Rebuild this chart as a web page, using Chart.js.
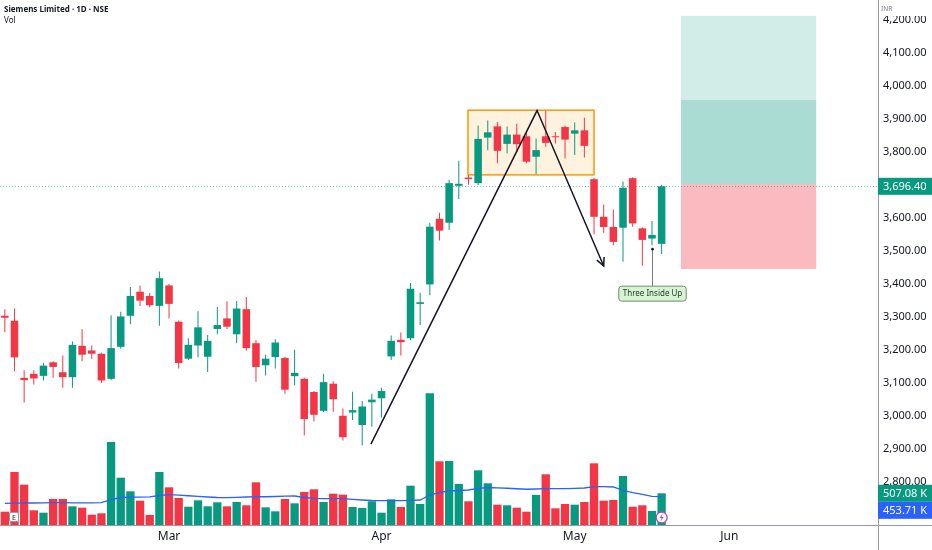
<!DOCTYPE html>
<html lang="en">
<head>
<meta charset="UTF-8">
<title>Siemens Limited · 1D · NSE</title>
<script src="https://cdn.jsdelivr.net/npm/chart.js"></script>
<style>
  html, body { margin: 0; padding: 0; background: #fff; }
  #wrap { position: relative; width: 932px; height: 550px; }
</style>
</head>
<body>
<div id="wrap"><canvas id="chart"></canvas></div>
<script>
// daily bars, index 0 = first visible bar
const opens  = [3304,3289,3116,3128,3122,3163,3133,3118,3213,3199, 3189,3113,3210,3304,3377,3364,3334,3396,3286,3174,
                3214,3180,3264,3296,3248,3324,3221,3154,3179,3176, 3121,3113,3073,3016,3098,3001,3011,2973,3042,3054,
                3181,3231,3236,3340,3399,3598,3586,3698,3723,3706, 3844,3878,3825,3853,3848,3786,3848,3848,3876,3856,
                3866,3718,3604,3573,3571,3721,3569,3538,3522];
const highs  = [3324,3326,3139,3139,3162,3166,3184,3226,3263,3214, 3192,3306,3316,3391,3396,3373,3438,3400,3290,3236,
                3318,3246,3331,3348,3349,3361,3231,3186,3233,3180, 3201,3116,3076,3128,3106,3023,3074,3046,3068,3086,
                3244,3253,3403,3374,3586,3616,3716,3774,3731,3881, 3896,3891,3878,3886,3858,3841,3926,3861,3881,3890,
                3904,3722,3641,3626,3711,3724,3572,3591,3701];
const lows   = [3254,3136,3041,3096,3108,3116,3086,3086,3166,3174, 3100,3109,3204,3278,3334,3330,3274,3296,3144,3170,
                3178,3134,3248,3264,3221,3198,3104,3123,3144,3068, 3093,2941,2984,3012,3013,2926,2988,2911,2968,2996,
                3170,3184,3230,3276,3366,3532,3564,3658,3701,3700, 3806,3766,3796,3800,3766,3734,3816,3826,3781,3791,
                3784,3551,3556,3518,3468,3574,3456,3518,3491];
const closes = [3298,3178,3109,3114,3153,3149,3118,3216,3186,3189, 3108,3206,3302,3364,3350,3336,3418,3340,3161,3216,
                3269,3228,3276,3271,3326,3206,3149,3174,3223,3080, 3131,2991,3004,3103,3051,2936,3018,3029,3050,3076,
                3228,3224,3386,3345,3574,3562,3706,3704,3718,3840, 3860,3804,3853,3824,3771,3806,3828,3845,3838,3866,
                3819,3604,3573,3528,3692,3584,3534,3549,3696.4];
// volume in thousands
const volumes = [213,848,645,235,197,416,416,299,277,165, 187,1328,757,539,389,160,848,603,432,293,
                 395,299,363,299,368,315,683,283,219,416, 347,528,571,368,501,485,288,272,379,197,
                 411,288,629,336,2107,1019,1024,656,379,875, 667,325,315,277,213,480,811,267,336,325,
                 368,987,389,400,784,293,315,224,507.08];
const volumeMA = [347,350,352,352,355,358,357,355,355,354, 357,405,440,445,447,450,472,485,478,468,
                  458,448,440,437,442,448,453,452,456,462, 464,440,425,421,421,421,411,400,392,390,
                  389,390,394,400,480,523,544,552,560,585, 600,595,588,580,572,576,581,581,581,585,
                  592,613,613,608,555,517,491,459,453.71];

const monthTicks  = [17, 39, 59, 75];
const monthLabels = ['Mar', 'Apr', 'May', 'Jun'];
const priceTicks  = [2700,2800,2900,3000,3100,3200,3300,3400,3500,3600,3700,3800,3900,4000,4100,4200];

// drawings, in bar index / price units
const patternBox = { x0: 47.95, x1: 61.0, top: 3927, bottom: 3731 };
const zigzag = [{ x: 37.9, y: 2915 }, { x: 55.1, y: 3926 }, { x: 62.0, y: 3455 }];
const posZone = { x0: 70.0, x1: 84.0, target2: 4213, target1: 3958, entry: 3703, stop: 3446 };
const signal = { bar: 67, price: 3506, text: 'Three Inside Up' };

const UP = '#089981', DOWN = '#F23645';
const barColors = closes.map((c, i) => c >= opens[i] ? UP : DOWN);
const last = closes.length - 1;

Chart.defaults.font.family = "'Noto Sans', 'DejaVu Sans', sans-serif";
Chart.defaults.color = '#131722';

const fmtPrice = v => v.toLocaleString('en-US', { minimumFractionDigits: 2, maximumFractionDigits: 2 });

function tag(ctx, text, yc, bg) {
  ctx.fillStyle = bg;
  ctx.fillRect(878, yc - 8.5, 54, 17);
  ctx.fillStyle = '#fff';
  ctx.font = "11px 'Noto Sans', sans-serif";
  ctx.textAlign = 'left';
  ctx.textBaseline = 'middle';
  ctx.fillText(text, 883, yc + 0.5);
}

const overlay = {
  id: 'overlay',
  beforeDatasetsDraw(chart) {
    const { ctx, chartArea, scales: { x, y } } = chart;
    const px = v => x.getPixelForValue(v), py = v => y.getPixelForValue(v);
    ctx.save();
    // long position tool
    const zx0 = px(posZone.x0), zw = px(posZone.x1) - zx0;
    ctx.fillStyle = 'rgba(8,153,129,0.18)';
    ctx.fillRect(zx0, py(posZone.target2), zw, py(posZone.target1) - py(posZone.target2));
    ctx.fillStyle = 'rgba(8,153,129,0.34)';
    ctx.fillRect(zx0, py(posZone.target1), zw, py(posZone.entry) - py(posZone.target1));
    ctx.fillStyle = 'rgba(242,54,69,0.34)';
    ctx.fillRect(zx0, py(posZone.entry), zw, py(posZone.stop) - py(posZone.entry));
    // consolidation box
    const bx = px(patternBox.x0), by = py(patternBox.top);
    ctx.fillStyle = 'rgba(255,152,0,0.13)';
    ctx.fillRect(bx, by, px(patternBox.x1) - bx, py(patternBox.bottom) - by);
    ctx.strokeStyle = '#FF9800';
    ctx.lineWidth = 1.5;
    ctx.strokeRect(bx, by, px(patternBox.x1) - bx, py(patternBox.bottom) - by);
    // last price line
    const ly = Math.round(py(closes[last])) + 0.5;
    ctx.strokeStyle = 'rgba(8,153,129,0.55)';
    ctx.lineWidth = 1;
    ctx.setLineDash([1, 2]);
    ctx.beginPath();
    ctx.moveTo(chartArea.left, ly);
    ctx.lineTo(chartArea.right, ly);
    ctx.stroke();
    ctx.restore();
  },
  afterDatasetsDraw(chart) {
    const { ctx, scales: { x, y } } = chart;
    const px = v => x.getPixelForValue(v), py = v => y.getPixelForValue(v);
    ctx.save();
    // arrow head at the end of the zigzag
    const a = zigzag[zigzag.length - 2], b = zigzag[zigzag.length - 1];
    const ex = px(b.x), ey = py(b.y);
    const ang = Math.atan2(ey - py(a.y), ex - px(a.x));
    ctx.strokeStyle = '#131722';
    ctx.lineWidth = 1.5;
    ctx.beginPath();
    ctx.moveTo(ex - 9 * Math.cos(ang - 0.45), ey - 9 * Math.sin(ang - 0.45));
    ctx.lineTo(ex, ey);
    ctx.lineTo(ex - 9 * Math.cos(ang + 0.45), ey - 9 * Math.sin(ang + 0.45));
    ctx.stroke();
    // pattern label
    const sx = Math.round(px(signal.bar)) + 0.5, sy = py(signal.price);
    ctx.strokeStyle = '#787b86';
    ctx.lineWidth = 1;
    ctx.beginPath();
    ctx.moveTo(sx, sy);
    ctx.lineTo(sx, sy + 37);
    ctx.stroke();
    ctx.fillStyle = '#131722';
    ctx.beginPath();
    ctx.arc(sx, sy, 1.3, 0, Math.PI * 2);
    ctx.fill();
    ctx.font = "8px 'Noto Sans', sans-serif";
    const tw = ctx.measureText(signal.text).width + 8;
    ctx.fillStyle = '#d9f2d6';
    ctx.strokeStyle = '#6d8f6d';
    ctx.beginPath();
    ctx.roundRect(sx - tw / 2, sy + 37, tw, 15, 3);
    ctx.fill();
    ctx.stroke();
    ctx.fillStyle = '#1b3d1e';
    ctx.textAlign = 'center';
    ctx.textBaseline = 'middle';
    ctx.fillText(signal.text, sx, sy + 45);
    ctx.restore();
  },
  afterDraw(chart) {
    const { ctx, chartArea, scales: { x, yv, y } } = chart;
    ctx.save();
    // currency header covers the top of the price scale
    ctx.fillStyle = '#fff';
    ctx.fillRect(chartArea.right + 1, 0, 54, 16);
    // axis lines
    ctx.strokeStyle = '#9598a1';
    ctx.lineWidth = 1;
    ctx.beginPath();
    ctx.moveTo(chartArea.right + 0.5, 0);
    ctx.lineTo(chartArea.right + 0.5, 550);
    ctx.moveTo(0, chartArea.bottom + 0.5);
    ctx.lineTo(932, chartArea.bottom + 0.5);
    ctx.stroke();
    // header
    ctx.fillStyle = '#131722';
    ctx.textAlign = 'left';
    ctx.textBaseline = 'middle';
    ctx.font = "bold 8px 'Noto Sans', sans-serif";
    ctx.fillText('Siemens Limited · 1D · NSE', 4, 10);
    ctx.font = "8px 'Noto Sans', sans-serif";
    ctx.fillText('Vol', 4, 21);
    ctx.fillStyle = '#787b86';
    ctx.font = "6.5px 'Noto Sans', sans-serif";
    ctx.fillText('INR', 881, 9);
    // earnings marker
    ctx.fillStyle = '#fff';
    ctx.strokeStyle = '#9598a1';
    ctx.beginPath();
    ctx.roundRect(9.5, 512.5, 9, 9, 1.5);
    ctx.fill();
    ctx.stroke();
    ctx.fillStyle = '#131722';
    ctx.font = "7px 'Noto Sans', sans-serif";
    ctx.textAlign = 'center';
    ctx.fillText('E', 14, 517.5);
    // dividend/split marker on last bar
    const lx = x.getPixelForValue(last);
    ctx.fillStyle = '#fff';
    ctx.strokeStyle = '#ab47bc';
    ctx.lineWidth = 1.3;
    ctx.beginPath();
    ctx.arc(lx, 517.5, 5.5, 0, Math.PI * 2);
    ctx.fill();
    ctx.stroke();
    ctx.fillStyle = '#ab47bc';
    ctx.beginPath();
    ctx.moveTo(lx + 1, 513.5);
    ctx.lineTo(lx - 2, 518);
    ctx.lineTo(lx, 518);
    ctx.lineTo(lx - 1, 521.5);
    ctx.lineTo(lx + 2, 517);
    ctx.lineTo(lx, 517);
    ctx.closePath();
    ctx.fill();
    // right scale tags
    tag(ctx, fmtPrice(closes[last]), y.getPixelForValue(closes[last]), UP);
    const vy = yv.getPixelForValue(volumes[last]);
    const my = Math.max(yv.getPixelForValue(volumeMA[last]), vy + 17);
    tag(ctx, volumes[last].toFixed(2) + ' K', vy, barColors[last]);
    tag(ctx, volumeMA[last].toFixed(2) + ' K', my, '#2962FF');
    ctx.restore();
  }
};

new Chart(document.getElementById('chart'), {
  type: 'bar',
  data: {
    datasets: [
      {
        type: 'line',
        data: zigzag,
        yAxisID: 'y',
        borderColor: '#131722',
        borderWidth: 1.5,
        pointRadius: 0,
        order: 1
      },
      {
        data: opens.map((o, i) => ({ x: i, y: [o, closes[i]] })),
        yAxisID: 'y',
        backgroundColor: barColors,
        grouped: false,
        barPercentage: 0.78,
        categoryPercentage: 1,
        order: 2
      },
      {
        data: lows.map((l, i) => ({ x: i, y: [l, highs[i]] })),
        yAxisID: 'y',
        backgroundColor: barColors,
        grouped: false,
        maxBarThickness: 1,
        order: 3
      },
      {
        type: 'line',
        data: volumeMA.map((v, i) => ({ x: i, y: v })),
        yAxisID: 'yv',
        borderColor: '#2962FF',
        borderWidth: 1.3,
        pointRadius: 0,
        order: 4
      },
      {
        data: volumes.map((v, i) => ({ x: i, y: v })),
        yAxisID: 'yv',
        backgroundColor: barColors,
        grouped: false,
        barPercentage: 0.86,
        categoryPercentage: 1,
        order: 5
      }
    ]
  },
  options: {
    responsive: true,
    maintainAspectRatio: false,
    animation: false,
    layout: { padding: 0 },
    plugins: { legend: { display: false }, tooltip: { enabled: false } },
    scales: {
      x: {
        type: 'linear',
        offset: false,
        min: -0.5,
        max: 90.4,
        grid: { display: false, drawTicks: false, offset: false },
        border: { display: false },
        ticks: {
          autoSkip: false,
          maxRotation: 0,
          padding: 4,
          font: { size: 12 },
          color: '#131722',
          callback: v => monthLabels[monthTicks.indexOf(v)]
        },
        afterBuildTicks: s => { s.ticks = monthTicks.map(v => ({ value: v })); },
        afterFit: s => { s.height = 25; s.paddingLeft = 0; s.paddingRight = 0; }
      },
      y: {
        type: 'linear',
        position: 'right',
        min: 2670,
        max: 4261,
        grid: { display: false, drawTicks: false },
        border: { display: false },
        ticks: {
          autoSkip: false,
          padding: 5,
          font: { size: 11 },
          color: '#131722',
          callback: v => fmtPrice(v)
        },
        afterBuildTicks: s => { s.ticks = priceTicks.map(v => ({ value: v })); },
        afterFit: s => { s.width = 54; s.paddingTop = 0; s.paddingBottom = 0; }
      },
      yv: {
        type: 'linear',
        display: false,
        min: 0,
        max: 8400
      }
    }
  },
  plugins: [overlay]
});
</script>
</body>
</html>
